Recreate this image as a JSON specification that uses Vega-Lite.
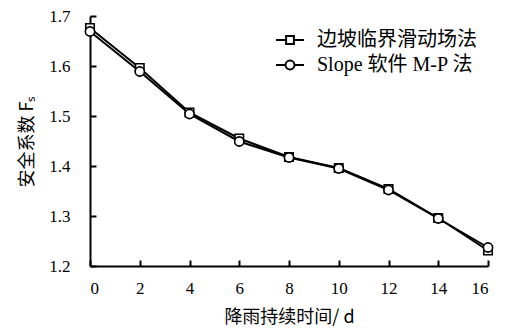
{
  "$schema": "https://vega.github.io/schema/vega-lite/v6.json",
  "width": 398,
  "height": 250,
  "autosize": {"type": "none"},
  "padding": {"left": 90, "top": 16, "right": 19, "bottom": 68},
  "background": "white",
  "config": {
    "view": {"stroke": null},
    "font": "Liberation Serif, Noto Sans CJK SC",
    "axis": {
      "grid": false,
      "domainColor": "black",
      "domainWidth": 2,
      "tickColor": "black",
      "tickWidth": 2,
      "tickSize": -6,
      "labelFont": "Liberation Serif",
      "labelFontSize": 17,
      "labelColor": "black",
      "titleFont": "Noto Sans CJK SC",
      "titleFontSize": 18,
      "titleFontWeight": "normal",
      "titleColor": "black"
    }
  },
  "data": {
    "values": [
      {"t": 0, "fs": 1.676, "series": "边坡临界滑动场法"},
      {"t": 2, "fs": 1.596, "series": "边坡临界滑动场法"},
      {"t": 4, "fs": 1.507, "series": "边坡临界滑动场法"},
      {"t": 6, "fs": 1.455, "series": "边坡临界滑动场法"},
      {"t": 8, "fs": 1.418, "series": "边坡临界滑动场法"},
      {"t": 10, "fs": 1.396, "series": "边坡临界滑动场法"},
      {"t": 12, "fs": 1.354, "series": "边坡临界滑动场法"},
      {"t": 14, "fs": 1.296, "series": "边坡临界滑动场法"},
      {"t": 16, "fs": 1.231, "series": "边坡临界滑动场法"},
      {"t": 0, "fs": 1.669, "series": "Slope 软件 M-P 法"},
      {"t": 2, "fs": 1.589, "series": "Slope 软件 M-P 法"},
      {"t": 4, "fs": 1.504, "series": "Slope 软件 M-P 法"},
      {"t": 6, "fs": 1.449, "series": "Slope 软件 M-P 法"},
      {"t": 8, "fs": 1.417, "series": "Slope 软件 M-P 法"},
      {"t": 10, "fs": 1.395, "series": "Slope 软件 M-P 法"},
      {"t": 12, "fs": 1.352, "series": "Slope 软件 M-P 法"},
      {"t": 14, "fs": 1.295, "series": "Slope 软件 M-P 法"},
      {"t": 16, "fs": 1.237, "series": "Slope 软件 M-P 法"}
    ]
  },
  "encoding": {
    "x": {
      "field": "t", "type": "quantitative",
      "scale": {"domain": [0, 16], "nice": false, "zero": false},
      "axis": {"values": [0, 2, 4, 6, 8, 10, 12, 14, 16], "labelPadding": 20, "title": "降雨持续时间/ d", "titlePadding": 12}
    },
    "y": {
      "field": "fs", "type": "quantitative",
      "scale": {"domain": [1.2, 1.7], "nice": false, "zero": false},
      "axis": {"values": [1.2, 1.3, 1.4, 1.5, 1.6, 1.7], "format": ".1f", "labelPadding": 26, "title": "安全系数 Fₛ", "titlePadding": 12}
    }
  },
  "layer": [
    {
      "mark": {"type": "line", "strokeWidth": 2},
      "encoding": {
        "color": {
          "field": "series", "type": "nominal",
          "scale": {"domain": ["边坡临界滑动场法", "Slope 软件 M-P 法"], "range": ["black", "black"]},
          "legend": {
            "title": null,
            "orient": "none",
            "legendX": 185,
            "legendY": 9,
            "padding": 0,
            "symbolSize": 784,
            "symbolType": "M-1,0H-0.28M0.28,0H1M-0.28,-0.28H0.28V0.28H-0.28Z",
            "symbolStrokeWidth": 2,
            "symbolStrokeColor": "black",
            "symbolFillColor": "white",
            "labelFont": "Liberation Serif, Noto Sans CJK SC",
            "labelFontSize": 20,
            "labelColor": "black",
            "labelOffset": 12,
            "rowPadding": -3,
            "encode": {
              "symbols": {
                "update": {
                  "shape": {"signal": "datum.value === 'Slope 软件 M-P 法' ? 'M-1,0H-0.32M0.32,0H1M-0.32,0A0.32,0.32,0,1,1,0.32,0A0.32,0.32,0,1,1,-0.32,0Z' : 'M-1,0H-0.28M0.28,0H1M-0.28,-0.28H0.28V0.28H-0.28Z'"},
                  "fill": {"value": "white"},
                  "stroke": {"value": "black"}
                }
              }
            }
          }
        }
      }
    },
    {
      "transform": [{"filter": "datum.series === '边坡临界滑动场法'"}],
      "mark": {"type": "point", "shape": "square", "filled": true, "fill": "white", "stroke": "black", "strokeWidth": 1.6, "size": 72, "opacity": 1}
    },
    {
      "transform": [{"filter": "datum.series === 'Slope 软件 M-P 法'"}],
      "mark": {"type": "point", "shape": "circle", "filled": true, "fill": "white", "stroke": "black", "strokeWidth": 1.6, "size": 85, "opacity": 1}
    }
  ]
}
